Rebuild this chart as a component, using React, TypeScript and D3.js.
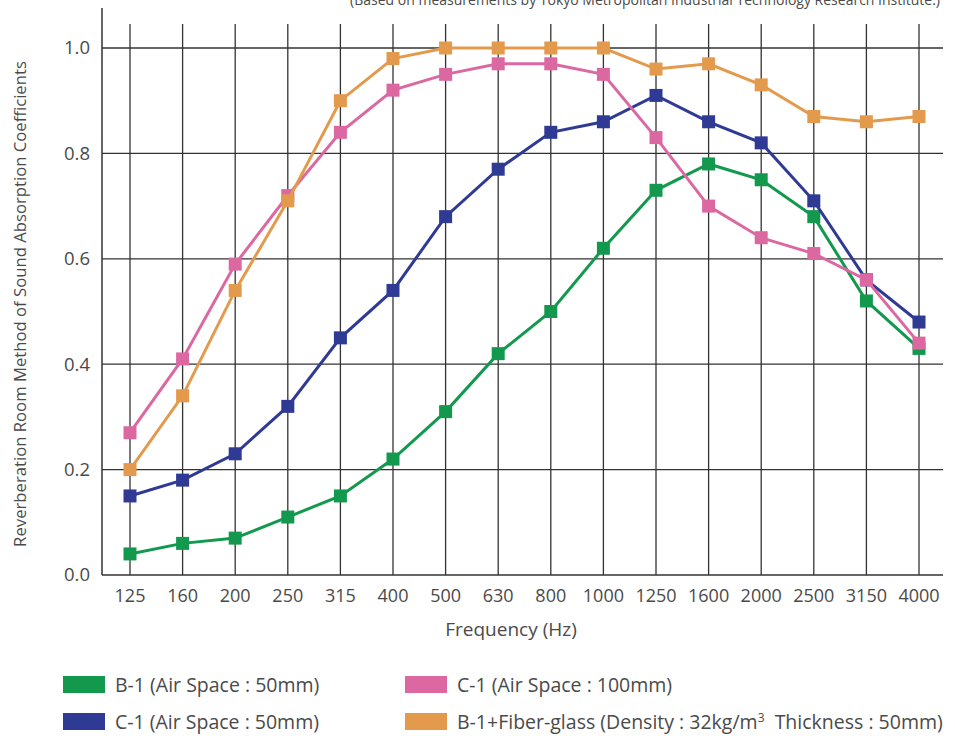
import React from "react";
import * as d3 from "d3";

const frequencies = ["125","160","200","250","315","400","500","630","800","1000","1250","1600","2000","2500","3150","4000"];
const b1Air50 = [0.04,0.06,0.07,0.11,0.15,0.22,0.31,0.42,0.50,0.62,0.73,0.78,0.75,0.68,0.52,0.43];
const c1Air50 = [0.15,0.18,0.23,0.32,0.45,0.54,0.68,0.77,0.84,0.86,0.91,0.86,0.82,0.71,0.56,0.48];
const c1Air100 = [0.27,0.41,0.59,0.72,0.84,0.92,0.95,0.97,0.97,0.95,0.83,0.70,0.64,0.61,0.56,0.44];
const b1Fiber = [0.20,0.34,0.54,0.71,0.90,0.98,1.00,1.00,1.00,1.00,0.96,0.97,0.93,0.87,0.86,0.87];
const yTicks = [0.0,0.2,0.4,0.6,0.8,1.0];

const seriesList = [
  { name: "B-1 (Air Space : 50mm)", values: b1Air50, color: "#12994e" },
  { name: "C-1 (Air Space : 50mm)", values: c1Air50, color: "#2f3a94" },
  { name: "C-1 (Air Space : 100mm)", values: c1Air100, color: "#dc68a2" },
  { name: "B-1+Fiber-glass", values: b1Fiber, color: "#e39a4c" },
];
const drawOrder = [0, 1, 2, 3];

const FONT = "'Open Sans', 'Noto Sans', sans-serif";
const TXT = "#4a4a4a";

export default function App() {
  const W = 955, H = 736;
  const left = 102, right = 943, top = 24, bottom = 575;
  const x = d3.scalePoint<string>().domain(frequencies).range([130, 919]);
  const y = d3.scaleLinear().domain([0, 1]).range([bottom, 48]);
  const line = d3.line<number>().x((_, i) => x(frequencies[i]) as number).y(d => y(d));

  return (
    <svg width={W} height={H} style={{ position: "absolute", left: 0, top: 0, background: "#fff" }} fontFamily={FONT}>
      <rect width={W} height={H} fill="#fff" />
      <text x={940} y={5} textAnchor="end" fontSize={14} fill={TXT}>
        (Based on measurements by Tokyo Metropolitan Industrial Technology Research Institute.)
      </text>
      {yTicks.slice(1).map(t => (
        <line key={"h" + t} x1={left} x2={right} y1={y(t)} y2={y(t)} stroke="#333" strokeWidth={1.3} />
      ))}
      {frequencies.map(f => (
        <line key={"v" + f} x1={x(f)} x2={x(f)} y1={top} y2={bottom} stroke="#333" strokeWidth={1.3} />
      ))}
      <line x1={left} x2={left} y1={8} y2={bottom} stroke="#333" strokeWidth={1.5} />
      <line x1={left} x2={right} y1={bottom} y2={bottom} stroke="#333" strokeWidth={1.5} />
      {yTicks.map(t => (
        <text key={"yl" + t} x={90} y={y(t)} dy="0.35em" textAnchor="end" fontSize={18.5} fill={TXT}>
          {t.toFixed(1)}
        </text>
      ))}
      {frequencies.map(f => (
        <text key={"xl" + f} x={x(f)} y={602} textAnchor="middle" fontSize={18} fill={TXT}>{f}</text>
      ))}
      <text x={511} y={636} textAnchor="middle" fontSize={19} fill={TXT}>Frequency (Hz)</text>
      <text transform={`translate(26,${304}) rotate(-90)`} textAnchor="middle" fontSize={16.7} fill={TXT}>
        Reverberation Room Method of Sound Absorption Coefficients
      </text>
      {drawOrder.map(si => {
        const s = seriesList[si];
        return (
          <g key={s.name}>
            <path d={line(s.values) || ""} fill="none" stroke={s.color} strokeWidth={3} />
            {s.values.map((v, i) => (
              <rect key={i} x={(x(frequencies[i]) as number) - 6.5} y={y(v) - 6.5} width={13} height={13} fill={s.color} />
            ))}
          </g>
        );
      })}
      <g fontSize={19.5} fill={TXT}>
        <rect x={63} y={676} width={42} height={17} fill={seriesList[0].color} />
        <text x={115} y={692}>B-1 (Air Space : 50mm)</text>
        <rect x={63} y={713} width={42} height={17} fill={seriesList[1].color} />
        <text x={115} y={729}>C-1 (Air Space : 50mm)</text>
        <rect x={405} y={676} width={42} height={17} fill={seriesList[2].color} />
        <text x={457} y={692}>C-1 (Air Space : 100mm)</text>
        <rect x={405} y={713} width={42} height={17} fill={seriesList[3].color} />
        <text x={457} y={729}>
          B-1+Fiber-glass (Density : 32kg/m<tspan dy={-7} fontSize={12}>3</tspan>
          <tspan dy={7}>{"\u00a0\u00a0Thickness : 50mm)"}</tspan>
        </text>
      </g>
    </svg>
  );
}
